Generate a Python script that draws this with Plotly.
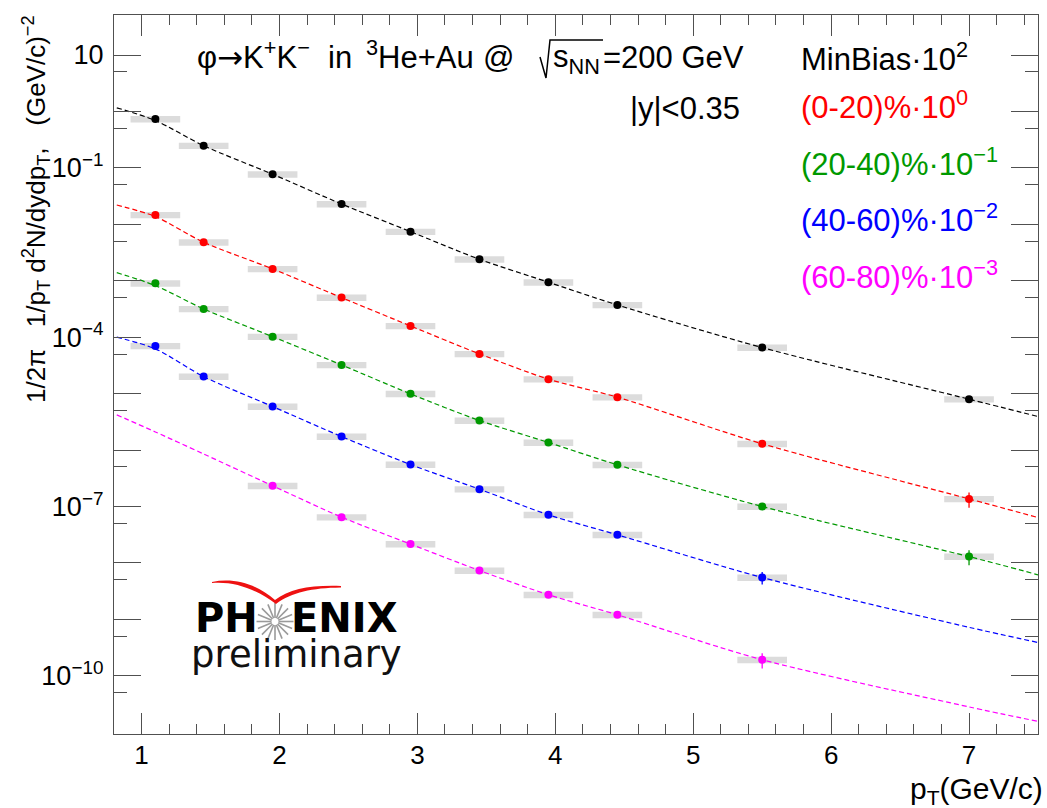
import math
import plotly.graph_objects as go

# ---------------- data ----------------
pt = [1.1, 1.45, 1.95, 2.45, 2.95, 3.45, 3.95, 4.45, 5.5, 7.0]
minbias = [0.735, 0.247, 0.0771, 0.0229, 7.41e-3, 2.40e-3, 9.4e-4, 3.72e-4, 6.53e-5, 7.96e-6]
cent_0_20 = [0.01465, 4.81e-3, 1.62e-3, 5.02e-4, 1.58e-4, 5.05e-5, 1.80e-5, 8.63e-6, 1.29e-6, 1.36e-7]
cent_20_40 = [9.03e-4, 3.16e-4, 1.02e-4, 3.22e-5, 9.88e-6, 3.33e-6, 1.36e-6, 5.46e-7, 9.96e-8, 1.29e-8]
pt_40_60 = [1.1, 1.45, 1.95, 2.45, 2.95, 3.45, 3.95, 4.45, 5.5]
cent_40_60 = [7.0e-5, 2.0e-5, 5.89e-6, 1.73e-6, 5.52e-7, 2.02e-7, 7.10e-8, 3.14e-8, 5.50e-9]
pt_60_80 = [1.95, 2.45, 2.95, 3.45, 3.95, 4.45, 5.5]
cent_60_80 = [2.32e-7, 6.46e-8, 2.15e-8, 7.31e-9, 2.72e-9, 1.20e-9, 1.92e-10]

# relative statistical errors (visible only on a few points)
stat_minbias = [0, 0, 0, 0, 0, 0, 0, 0, 0.08, 0.12]
stat_0_20 = [0, 0, 0, 0, 0, 0, 0, 0, 0.05, 0.30]
stat_20_40 = [0, 0, 0, 0, 0, 0, 0, 0, 0.05, 0.30]
stat_40_60 = [0, 0, 0, 0, 0, 0, 0, 0.05, 0.25]
stat_60_80 = [0, 0, 0, 0, 0, 0.10, 0.30]

sys_rel = 0.13          # grey systematic boxes
sys_width = 0.36        # box width in pT

# dashed fit curves
fit_pt_full = [0.82, 1.1, 1.45, 1.95, 2.45, 2.95, 3.45, 3.95, 4.45, 5.5, 7.0, 7.5]
fit_minbias = [1.16, 0.69, 0.247, 0.0771, 0.0229, 7.41e-3, 2.40e-3, 9.4e-4, 3.72e-4, 6.53e-5, 7.96e-6, 3.92e-6]
fit_0_20 = [0.0220, 0.0137, 4.81e-3, 1.62e-3, 5.02e-4, 1.58e-4, 5.05e-5, 1.80e-5, 8.63e-6, 1.29e-6, 1.36e-7, 6.36e-8]
fit_20_40 = [1.39e-3, 8.2e-4, 3.16e-4, 1.02e-4, 3.22e-5, 9.88e-6, 3.33e-6, 1.36e-6, 5.46e-7, 9.96e-8, 1.29e-8, 6.14e-9]
fit_40_60 = [1.0e-4, 6.2e-5, 2.0e-5, 5.89e-6, 1.73e-6, 5.52e-7, 2.02e-7, 7.10e-8, 3.14e-8, 5.50e-9, 7.2e-10, 3.88e-10]
fit_60_80 = [4.2e-6, 2.09e-6, 8.5e-7, 2.32e-7, 6.46e-8, 2.15e-8, 7.31e-9, 2.72e-9, 1.20e-9, 1.92e-10, 2.8e-11, 1.55e-11]

series = [
    ("MinBias", pt, minbias, stat_minbias, fit_minbias, "#000000"),
    ("0-20", pt, cent_0_20, stat_0_20, fit_0_20, "#ff0000"),
    ("20-40", pt, cent_20_40, stat_20_40, fit_20_40, "#009900"),
    ("40-60", pt_40_60, cent_40_60, stat_40_60, fit_40_60, "#0000ff"),
    ("60-80", pt_60_80, cent_60_80, stat_60_80, fit_60_80, "#ff00ff"),
]

y_tick_exp = [1, 0, -1, -2, -3, -4, -5, -6, -7, -8, -9, -10]
y_label_exp = [1, -1, -4, -7, -10]
y_minor_exp = [0, -1, -2, -3, -4, -5, -6, -7, -8, -9, -10, -11]

FONT = "Liberation Sans, Arial, Helvetica, sans-serif"
W, H = 1047, 808
L, R, T, B = 114, 1038, 15, 734
PW, PH = R - L, B - T


def px(x):
    return (x - L) / PW


def py(y):
    return (B - y) / PH


fig = go.Figure()

# systematic boxes
for name, xs, ys, st, fy, col in series:
    fig.add_trace(go.Bar(
        x=xs, y=[v * (1 + sys_rel) - v * (1 - sys_rel) for v in ys],
        base=[v * (1 - sys_rel) for v in ys], width=sys_width,
        marker=dict(color="#dcdcdc", line=dict(width=0)),
        showlegend=False, hoverinfo="skip"))

# fit curves
for name, xs, ys, st, fy, col in series:
    fig.add_trace(go.Scatter(
        x=fit_pt_full, y=fy, mode="lines",
        line=dict(color=col, width=1.2, dash="5px,3px", shape="spline", smoothing=0.8),
        showlegend=False, hoverinfo="skip"))

# data points
for name, xs, ys, st, fy, col in series:
    fig.add_trace(go.Scatter(
        x=xs, y=ys, mode="markers",
        marker=dict(color=col, size=8, line=dict(width=0)),
        error_y=dict(type="data", symmetric=False,
                     array=[v * e for v, e in zip(ys, st)],
                     arrayminus=[v * e for v, e in zip(ys, st)],
                     color=col, thickness=1.3, width=0),
        name=name, showlegend=False))

axis_col = "#505050"
fig.update_layout(
    width=W, height=H,
    margin=dict(l=L, r=W - R, t=T, b=H - B, pad=0),
    paper_bgcolor="white", plot_bgcolor="white",
    barmode="overlay", showlegend=False,
    font=dict(family=FONT, color="black"),
    xaxis=dict(
        range=[0.8, 7.5], tickmode="linear", tick0=1, dtick=1,
        ticks="inside", ticklen=21, tickwidth=1.2, tickcolor=axis_col,
        showline=True, linecolor=axis_col, linewidth=1.3, mirror="ticks",
        showgrid=False, zeroline=False,
        tickfont=dict(size=26, family=FONT, color="black"),
        ticklabelstandoff=-2,
        minor=dict(tickmode="linear", tick0=0, dtick=0.2, ticks="inside",
                   ticklen=10, tickwidth=1.2, tickcolor=axis_col, showgrid=False),
    ),
    yaxis=dict(
        type="log", range=[-11.033, 1.709],
        tickmode="array",
        tickvals=[10.0 ** k for k in y_tick_exp],
        ticktext=[("10" if k == 1 else "10<sup>\u2212%d</sup>" % (-k)) if k in y_label_exp else ""
                  for k in y_tick_exp],
        ticks="inside", ticklen=27, tickwidth=1.2, tickcolor=axis_col,
        showline=True, linecolor=axis_col, linewidth=1.3, mirror="ticks",
        showgrid=False, zeroline=False,
        tickfont=dict(size=27, family=FONT, color="black"),
        ticklabelstandoff=4,
        minor=dict(tickmode="array", tickvals=[5 * 10.0 ** k for k in y_minor_exp],
                   ticks="inside", ticklen=13, tickwidth=1.2, tickcolor=axis_col, showgrid=False),
    ),
)


def label(x, base, text, size, color="black", family=FONT, anchor="left", desc=0.212):
    fig.add_annotation(
        x=px(x), y=py(base + desc * size), xref="paper", yref="paper",
        text=text, showarrow=False, xanchor=anchor, yanchor="bottom",
        borderpad=0, borderwidth=0,
        font=dict(size=size, color=color, family=family))


TS = 31
ARROW = "<span style='font-family:DejaVu Sans'>\u2192</span>"
# title line
label(197, 68.5, "\u03c6" + ARROW + "K<sup>+</sup>K<sup>\u2212</sup>", TS)
label(328, 68.5, "in", TS)
label(366, 68.5, "<sup>3</sup>He+Au", TS)
label(483, 68.5, "@", TS)
label(553, 68.5 + 4, "s<sub>NN</sub>", TS)
label(603, 68.5, "=200 GeV", TS)
label(630, 119, "|y|&lt;0.35", TS)

# sqrt sign
root = [(540, 57), (546, 78), (550, 40), (603, 40)]
fig.add_shape(type="path", xref="paper", yref="paper",
              path="M " + " L ".join("%f,%f" % (px(a), py(b)) for a, b in root),
              line=dict(color="black", width=1.5))

# scale-factor labels
label(801, 70, "MinBias\u00b710<sup>2</sup>", TS, "#000000")
label(801, 118.5, "(0-20)%\u00b710<sup>0</sup>", TS, "#ff0000")
label(801, 175, "(20-40)%\u00b710<sup>\u22121</sup>", TS, "#009900")
label(801, 231.5, "(40-60)%\u00b710<sup>\u22122</sup>", TS, "#0000ff")
label(801, 288, "(60-80)%\u00b710<sup>\u22123</sup>", TS, "#ff00ff")

# axis titles
label(1043, 803, "p<sub>T</sub>(GeV/c)", 30, anchor="right")
fig.add_annotation(
    x=px(36), y=py(15), xref="paper", yref="paper", textangle=-90,
    text="1/2\u03c0\u00a0\u00a0 1/p<sub>T</sub> d<sup>2</sup>N/dydp<sub>T</sub>,\u00a0\u00a0 (GeV/c)<sup>\u22122</sup>",
    showarrow=False, xanchor="center", yanchor="top", borderpad=0, borderwidth=0,
    font=dict(size=26, family=FONT, color="black"))

# PHENIX preliminary logo
LOGO = "DejaVu Sans, Verdana, sans-serif"
label(258, 632, "<b>PH</b>", 40, family=LOGO, anchor="right", desc=0.236)
label(291, 632, "<b>ENIX</b>", 40, family=LOGO, desc=0.236)
label(191, 667, "preliminary", 37, color="#111111", family=LOGO, desc=0.236)
cx, cy = 275, 621.5
for i in range(16):
    a = 2 * math.pi * i / 16
    fig.add_shape(type="line", xref="paper", yref="paper",
                  x0=px(cx + 3.5 * math.cos(a)), y0=py(cy + 3.5 * math.sin(a)),
                  x1=px(cx + 18.5 * math.cos(a)), y1=py(cy + 18.5 * math.sin(a)),
                  line=dict(color="#9a9a9a", width=1.6))
sw = [("M", 212, 582), ("C", 235, 577), ("", 258, 585), ("", 275, 600),
      ("C", 290, 589), ("", 310, 585), ("", 341, 586), ("L", 341, 587.5),
      ("C", 312, 588), ("", 292, 592), ("", 276, 604),
      ("C", 258, 590), ("", 235, 581), ("", 212, 583)]
swp = " ".join(("%s %f,%f" % (c, px(a), py(b))).strip() for c, a, b in sw) + " Z"
fig.add_shape(type="path", xref="paper", yref="paper", path=swp,
              fillcolor="#ee1111", line=dict(width=0))

fig.write_html("out.html", config={"displayModeBar": False})
